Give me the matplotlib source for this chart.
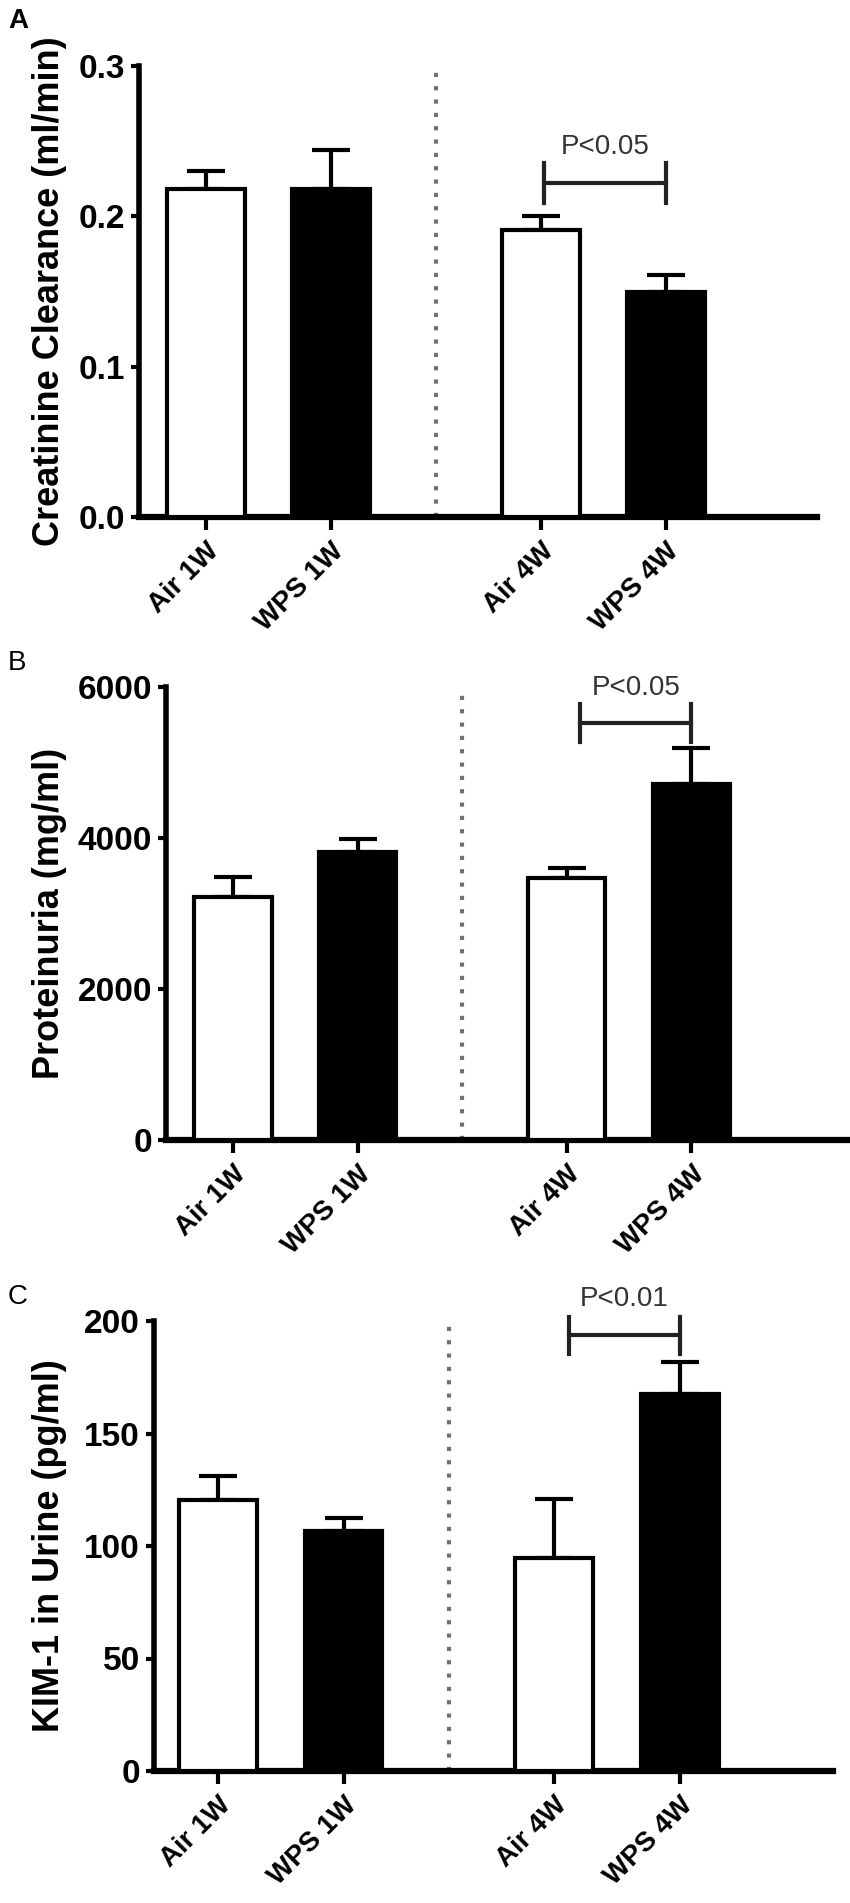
import numpy as np
import matplotlib
matplotlib.use('Agg')
from matplotlib import pyplot as plt

plt.rcParams['font.family'] = ['Liberation Sans', 'DejaVu Sans']

groups = ['Air 1W', 'WPS 1W', 'Air 4W', 'WPS 4W']
xpos = [0, 1, 2.68, 3.68]
colors = ['white', 'black', 'white', 'black']

# panel A - creatinine clearance
crcl_mean = [0.218, 0.218, 0.191, 0.150]
crcl_sem = [0.012, 0.026, 0.009, 0.011]
# panel B - proteinuria
prot_mean = [3224, 3813, 3465, 4710]
prot_sem = [258, 174, 141, 483]
# panel C - KIM-1
kim_mean = [120.6, 106.6, 94.6, 167.6]
kim_sem = [10.6, 6.0, 26.4, 14.4]

panels = [
    dict(letter='A', bold=True, mean=crcl_mean, sem=crcl_sem,
         ylabel='Creatinine Clearance (ml/min)',
         yticks=[0.0, 0.1, 0.2, 0.3], yticklabels=['0.0', '0.1', '0.2', '0.3'],
         px=(139, 817, 66, 517), xl=(-0.536, 4.888),
         brk=(2.70, 3.68, 0.2225, 0.0133), ptxt='P<0.05', pty=0.246),
    dict(letter='B', bold=False, mean=prot_mean, sem=prot_sem,
         ylabel='Proteinuria (mg/ml)',
         yticks=[0, 2000, 4000, 6000], yticklabels=['0', '2000', '4000', '6000'],
         px=(166, 847, 687, 1140), xl=(-0.538, 4.93),
         brk=(2.79, 3.68, 5529, 252), ptxt='P<0.05', pty=5990),
    dict(letter='C', bold=False, mean=kim_mean, sem=kim_sem,
         ylabel='KIM-1 in Urine (pg/ml)',
         yticks=[0, 50, 100, 150, 200], yticklabels=['0', '50', '100', '150', '200'],
         px=(154, 833, 1321, 1771), xl=(-0.51, 4.90),
         brk=(2.80, 3.68, 193.6, 8.2), ptxt='P<0.01', pty=209.6),
]

W, H = 850, 1903
fig = plt.figure(figsize=(W / 100, H / 100), dpi=100)

for p in panels:
    l, r, t, b = p['px']
    ax = fig.add_axes([l / W, 1 - b / H, (r - l) / W, (b - t) / H])
    ymax = p['yticks'][-1]

    ax.bar(xpos, p['mean'], width=0.62, color=colors, edgecolor='black',
           linewidth=3, zorder=3)
    ax.errorbar(xpos, p['mean'], yerr=[np.zeros(4), p['sem']], fmt='none',
                ecolor='black', elinewidth=3, capsize=14, capthick=3, zorder=2)

    # dotted separator between 1W and 4W groups
    ax.plot([1.84, 1.84], [0, ymax], color='#707070', linestyle=(0, (1, 2.2)),
            linewidth=3, zorder=1)

    # significance bracket
    x1, x2, yb, dy = p['brk']
    ax.plot([x1, x2], [yb, yb], color='#222222', lw=3, clip_on=False)
    ax.plot([x1, x1], [yb - dy, yb + dy], color='#222222', lw=3, clip_on=False)
    ax.plot([x2, x2], [yb - dy, yb + dy], color='#222222', lw=3, clip_on=False)
    ax.text((x1 + x2) / 2, p['pty'], p['ptxt'], ha='center', va='center',
            fontsize=20, color='#333333', clip_on=False)

    ax.set_xlim(*p['xl'])
    ax.set_ylim(0, ymax)
    ax.set_yticks(p['yticks'])
    ax.set_yticklabels(p['yticklabels'], fontsize=24, fontweight='bold')
    ax.set_xticks(xpos)
    ax.set_xticklabels(groups, rotation=45, ha='right', va='top',
                       rotation_mode='anchor', fontsize=20, fontweight='bold')
    ax.tick_params(axis='y', length=6, width=3, pad=4)
    ax.tick_params(axis='x', length=9, width=3, pad=6)

    for s in ['top', 'right']:
        ax.spines[s].set_visible(False)
    ax.spines['left'].set_linewidth(4)
    ax.spines['bottom'].set_linewidth(4.5)

    fig.text(50 / W, 1 - (t + b) / 2 / H, p['ylabel'], rotation=90,
             ha='center', va='center', fontsize=26, fontweight='bold')
    fig.text(8 / W, 1 - (21 if p['letter'] == 'A' else (663 if p['letter'] == 'B' else 1297)) / H,
             p['letter'], ha='left', va='center', fontsize=20,
             fontweight='bold' if p['bold'] else 'normal')

fig.savefig('out.png', dpi=100, facecolor='white')
